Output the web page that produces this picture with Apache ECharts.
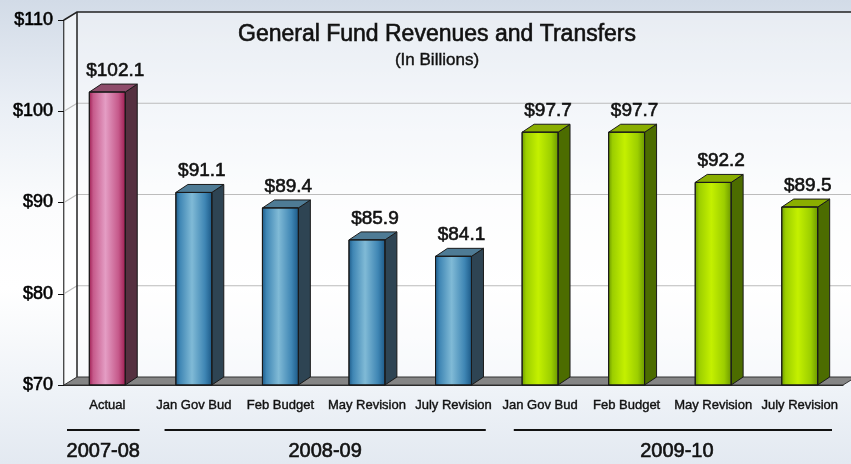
<!DOCTYPE html>
<html>
<head>
<meta charset="utf-8">
<script src="https://cdn.jsdelivr.net/npm/echarts@6/dist/echarts.min.js"></script>
<style>
    html, body { margin: 0; padding: 0; }
    body {
        width: 851px;
        height: 464px;
        background: linear-gradient(180deg, #d2dbe7 0%, #e9eef5 22%, #fbfcfd 45%, #ffffff 62%, #eef2f7 85%, #e3e9f1 100%);
    }
    #chart { width: 851px; height: 464px; }
</style>
</head>
<body>
<div id="chart"></div>
<script>
const categories = ["Actual", "Jan Gov Bud", "Feb Budget", "May Revision", "July Revision",
    "Jan Gov Bud", "Feb Budget", "May Revision", "July Revision"];
const values = [102.1, 91.1, 89.4, 85.9, 84.1, 97.7, 97.7, 92.2, 89.5];
const barPalette = [0, 1, 1, 1, 1, 2, 2, 2, 2];
const yTicks = [70, 80, 90, 100, 110];
const periods = ["2007-08", "2008-09", "2009-10"];
const periodSpans = [[0, 0], [1, 4], [5, 8]];

const FONT = "'Liberation Sans', Arial, sans-serif";
const INK = "#111";
const WALL_DX = 13, WALL_DY = -8;
const BAR_DX = 12, BAR_DY = -8;

const PALETTES = [
    { dark: "#9c1a4f", mid: "#c65a8b", light: "#e49dc4", side: "#553040", top: "#8e4c6b" },
    { dark: "#1b5886", mid: "#3f86b4", light: "#80bad6", side: "#2e4453", top: "#4e7b95" },
    { dark: "#6a9600", mid: "#9cce00", light: "#c4f000", side: "#4c6c00", top: "#8aae00" }
];

function frontGradient(p) {
    return {
        type: "linear", x: 0, y: 0, x2: 1, y2: 0,
        colorStops: [
            { offset: 0, color: p.dark },
            { offset: 0.12, color: p.mid },
            { offset: 0.45, color: p.light },
            { offset: 0.8, color: p.mid },
            { offset: 1, color: p.dark }
        ]
    };
}

function renderWalls(params, api) {
    const cs = params.coordSys;
    const x0 = cs.x, x1 = cs.x + cs.width;
    const yT = cs.y, yB = cs.y + cs.height;
    const children = [
        {
            type: "rect",
            shape: { x: x0 + WALL_DX, y: yT + WALL_DY, width: cs.width, height: cs.height },
            style: { fill: "rgba(255,255,255,0.45)" }
        },
        {
            type: "polygon",
            shape: { points: [[x0, yT], [x0 + WALL_DX, yT + WALL_DY], [x0 + WALL_DX, yB + WALL_DY], [x0, yB]] },
            style: { fill: "rgba(255,255,255,0.6)" }
        }
    ];
    yTicks.slice(1, -1).forEach(t => {
        const y = api.coord([0, t])[1];
        children.push({
            type: "polyline",
            shape: { points: [[x0, y], [x0 + WALL_DX, y + WALL_DY], [x1 + WALL_DX, y + WALL_DY]] },
            style: { stroke: "#bcbcbc", lineWidth: 1.2, fill: null }
        });
    });
    children.push(
        {
            type: "polyline",
            shape: { points: [[x0, yT], [x0 + WALL_DX, yT + WALL_DY], [x1 + WALL_DX, yT + WALL_DY]] },
            style: { stroke: "#222", lineWidth: 1.5, fill: null }
        },
        {
            type: "line",
            shape: { x1: x0 + WALL_DX, y1: yT + WALL_DY, x2: x0 + WALL_DX, y2: yB + WALL_DY },
            style: { stroke: "#222", lineWidth: 1.5 }
        },
        {
            type: "polygon",
            shape: { points: [[x0, yB], [x0 + WALL_DX, yB + WALL_DY], [x1 + WALL_DX, yB + WALL_DY], [x1, yB]] },
            style: { fill: "#858585", stroke: "#333", lineWidth: 1 }
        }
    );
    return { type: "group", children };
}

function renderBar(params, api) {
    const i = api.value(0);
    const v = api.value(1);
    const top = api.coord([i, v]);
    const base = api.coord([i, yTicks[0]]);
    const w = api.size([1, 0])[0] * 0.415;
    const xl = top[0] - w / 2, xr = top[0] + w / 2;
    const yt = top[1], yb = base[1];
    const p = PALETTES[barPalette[i]];
    return {
        type: "group",
        children: [
            {
                type: "polygon",
                shape: { points: [[xr, yt], [xr + BAR_DX, yt + BAR_DY], [xr + BAR_DX, yb + BAR_DY], [xr, yb]] },
                style: { fill: p.side, stroke: "#1a1a1a", lineWidth: 1 }
            },
            {
                type: "polygon",
                shape: { points: [[xl, yt], [xl + BAR_DX, yt + BAR_DY], [xr + BAR_DX, yt + BAR_DY], [xr, yt]] },
                style: { fill: p.top, stroke: "#1a1a1a", lineWidth: 1 }
            },
            {
                type: "rect",
                shape: { x: xl, y: yt, width: w, height: yb - yt },
                style: { fill: frontGradient(p), stroke: "#1a1a1a", lineWidth: 1 }
            },
            {
                type: "text",
                style: {
                    x: top[0] + BAR_DX / 2 + 2,
                    y: yt + BAR_DY - 4,
                    text: "$" + v.toFixed(1),
                    fill: INK,
                    stroke: INK,
                    lineWidth: 0.6,
                    font: "19px " + FONT,
                    align: "center",
                    verticalAlign: "bottom"
                }
            }
        ]
    };
}

const chart = echarts.init(document.getElementById("chart"));

chart.setOption({
    animation: false,
    title: {
        text: "General Fund Revenues and Transfers",
        subtext: "(In Billions)",
        left: 432,
        top: 18,
        textAlign: "center",
        itemGap: 5,
        textStyle: {
            fontFamily: FONT, fontSize: 23, fontWeight: "normal", color: INK,
            textBorderColor: INK, textBorderWidth: 0.6
        },
        subtextStyle: {
            fontFamily: FONT, fontSize: 17, color: INK,
            textBorderColor: INK, textBorderWidth: 0.4
        }
    },
    grid: {
        left: 64,
        right: 8,
        top: 20,
        bottom: 79,
        outerBoundsMode: "none"
    },
    xAxis: {
        type: "category",
        data: categories,
        axisLine: { lineStyle: { color: "#222", width: 1 } },
        axisTick: { interval: 0, length: 6, lineStyle: { color: "#222" } },
        axisLabel: {
            interval: 0, margin: 14, color: INK, fontFamily: FONT, fontSize: 13,
            textBorderColor: INK, textBorderWidth: 0.4
        },
        splitLine: { show: false }
    },
    yAxis: {
        type: "value",
        min: yTicks[0],
        max: yTicks[yTicks.length - 1],
        interval: 10,
        axisLine: { show: true, lineStyle: { color: "#111", width: 1.5 } },
        axisTick: { show: true, length: 6, lineStyle: { color: "#111" } },
        axisLabel: {
            margin: 11, color: "#000", fontFamily: FONT, fontSize: 18,
            textBorderColor: "#000", textBorderWidth: 0.6,
            formatter: v => "$" + v
        },
        splitLine: { show: false }
    },
    series: [
        {
            name: "walls",
            type: "custom",
            renderItem: renderWalls,
            data: [[0, yTicks[0]]],
            clip: false,
            silent: true,
            z: 1
        },
        {
            name: "General Fund",
            type: "custom",
            renderItem: renderBar,
            data: values.map((v, i) => [i, v]),
            clip: false,
            z: 3
        }
    ]
});

// period labels under the category axis
const half = (chart.convertToPixel({ xAxisIndex: 0 }, 1) - chart.convertToPixel({ xAxisIndex: 0 }, 0)) / 2;
const graphic = [];
periods.forEach((name, k) => {
    const [a, b] = periodSpans[k];
    const left = chart.convertToPixel({ xAxisIndex: 0 }, a) - half;
    const right = chart.convertToPixel({ xAxisIndex: 0 }, b) + half;
    const inL = k === 0 ? 3 : (k === 1 ? 14 : 17);
    const inR = 11;
    graphic.push({
        type: "line",
        shape: { x1: left + inL, y1: 430, x2: right - inR, y2: 430 },
        style: { stroke: INK, lineWidth: 2 }
    });
    graphic.push({
        type: "text",
        style: {
            x: (left + inL + right - inR) / 2 + (k === 2 ? 4 : 0),
            y: 451,
            text: name,
            fill: INK,
            stroke: INK,
            lineWidth: 0.6,
            font: "20px " + FONT,
            align: "center",
            verticalAlign: "middle"
        }
    });
});
chart.setOption({ graphic });
</script>
</body>
</html>
